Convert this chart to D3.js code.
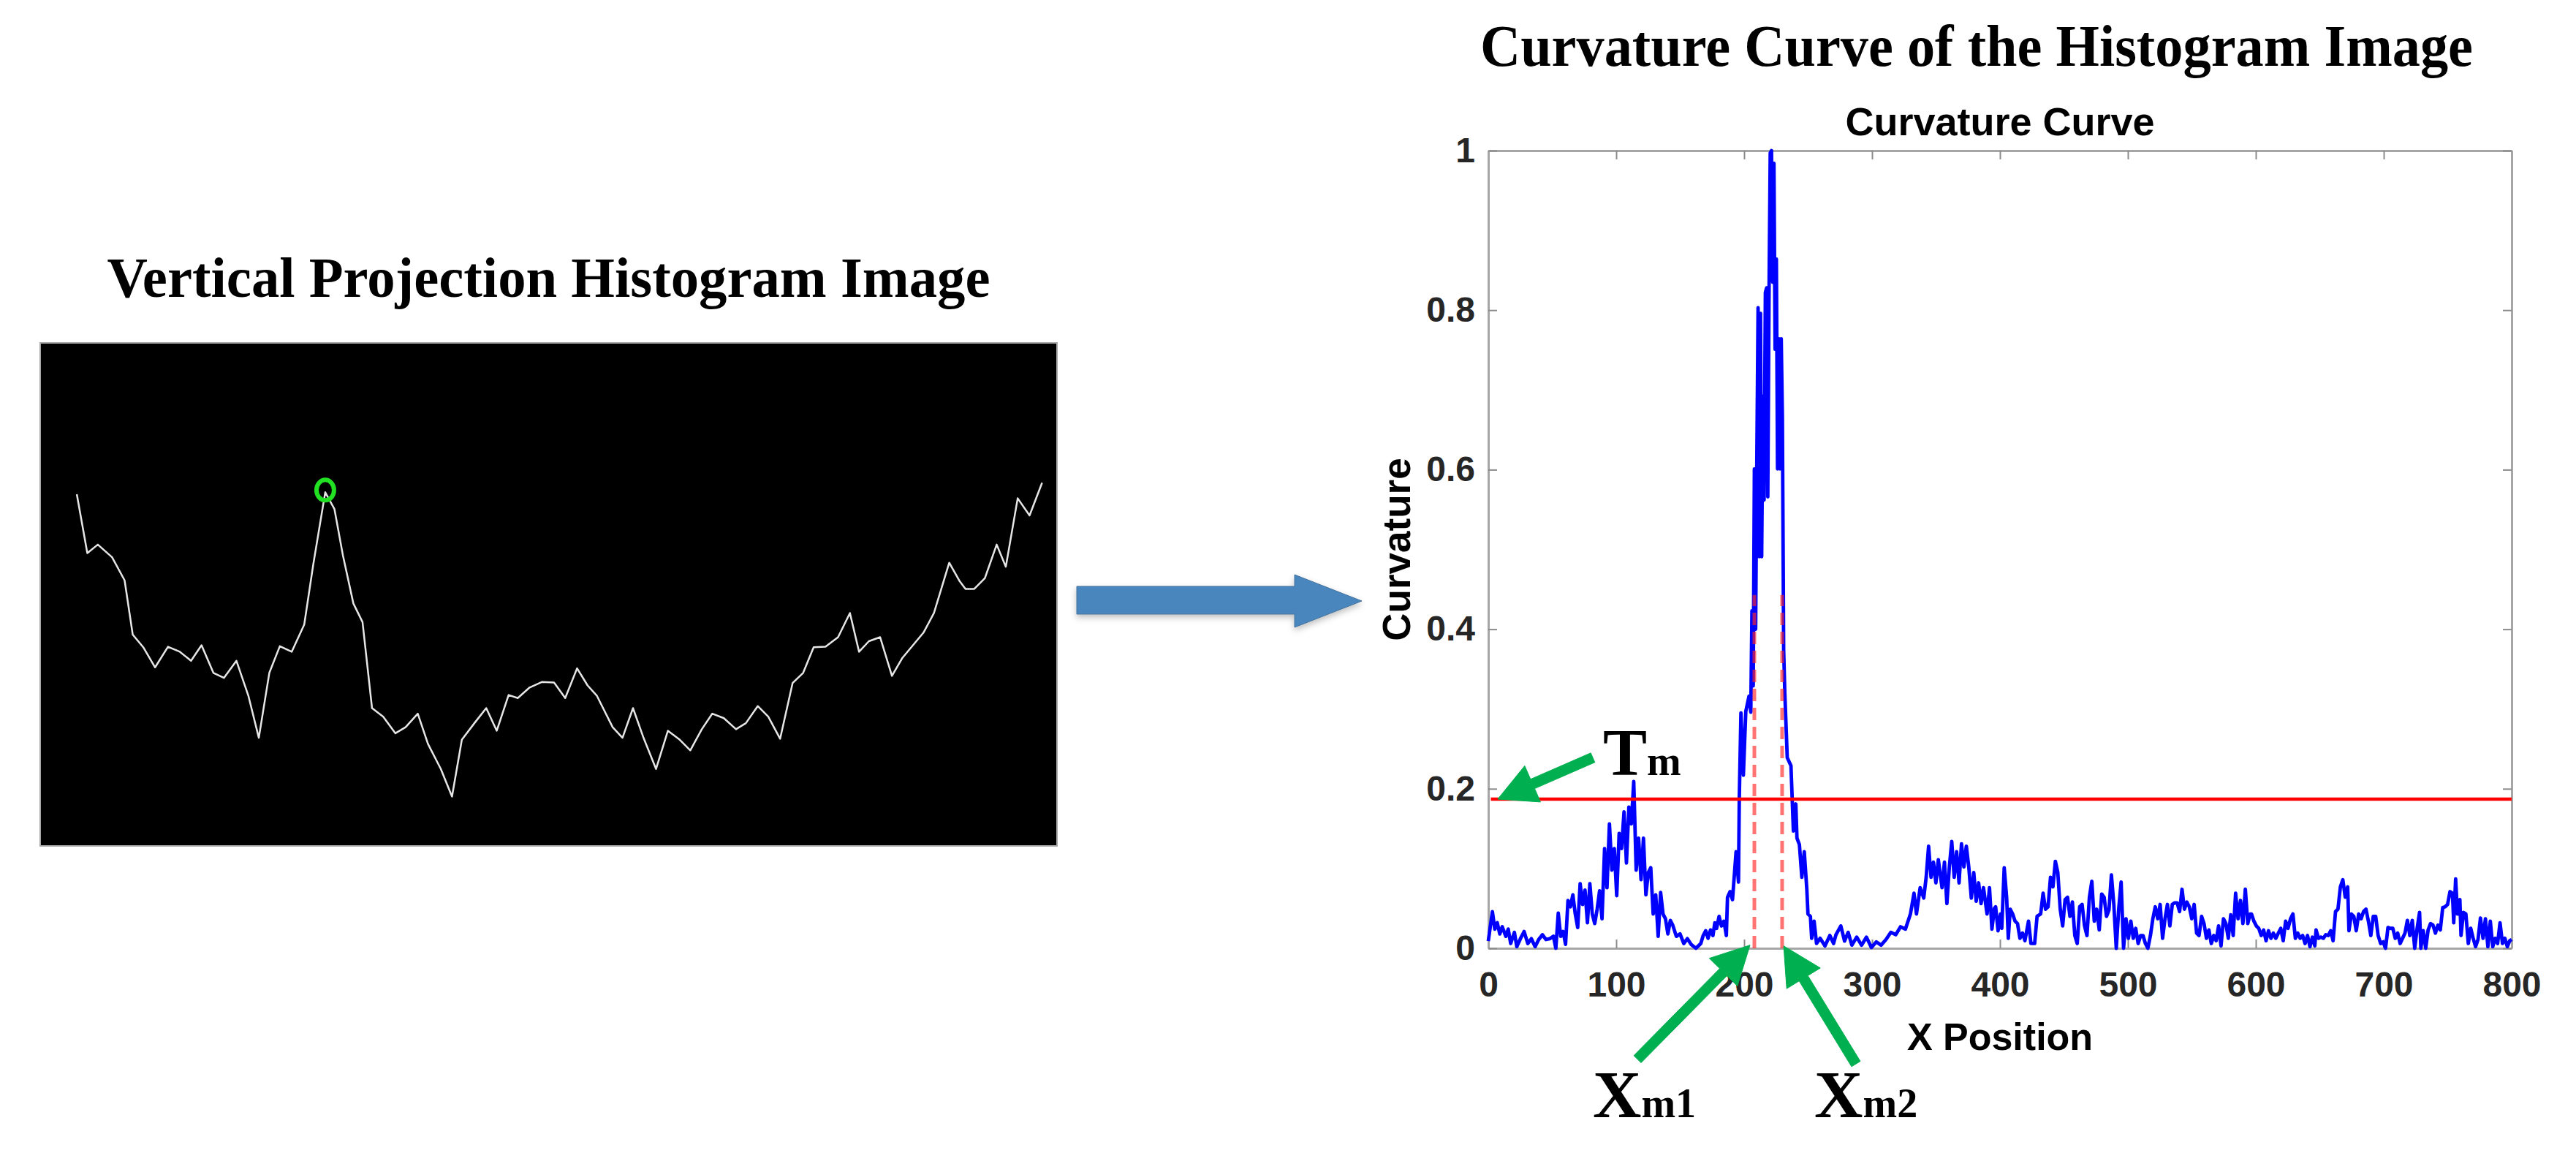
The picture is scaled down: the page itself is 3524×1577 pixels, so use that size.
<!DOCTYPE html>
<html><head><meta charset="utf-8">
<script src="https://cdn.jsdelivr.net/npm/d3@7"></script>
<style>html,body{margin:0;padding:0;background:#fff;}svg{display:block;}</style>
</head><body>
<script>
// ---------- DATA ----------
// Right chart: curvature curve (x position, curvature)
const curveX = [0,3.2,5.1,7.0,9.0,10.9,13.7,15.6,17.5,20.4,22.3,25.1,28.0,30.9,33.7,36.6,39.4,42.3,45.1,48.0,50.9,52.8,54.7,56.6,58.5,60.4,62.3,64.2,66.1,68.0,69.9,71.8,73.7,75.6,77.5,79.4,81.3,83.2,85.1,87.0,88.9,90.9,92.8,94.7,96.6,98.5,100.4,102.3,104.2,106.1,108.0,109.9,111.8,113.7,115.6,117.5,119.4,121.3,123.2,125.1,127.0,128.9,130.9,132.8,134.7,136.6,138.5,140.4,142.3,144.2,147.0,149.9,152.8,155.6,158.5,162.3,166.1,168.0,170.0,171.8,173.7,175.6,177.1,178.5,180.4,182.3,184.2,186.1,187.0,189.0,190.9,191.8,193.7,195.6,196.2,197.5,199.4,201.3,203.8,205.2,206.1,207.1,208.0,209.0,209.9,210.9,211.8,212.8,213.7,214.7,215.6,216.6,217.6,218.5,219.5,220.4,221.4,222.3,223.3,224.2,225.2,226.1,227.1,228.0,229.0,229.9,230.9,231.8,233.7,236.6,237.5,238.5,240.4,241.3,243.2,245.1,247.0,249.0,249.9,251.8,252.8,254.7,256.6,259.4,263.2,267.0,269.9,271.8,275.6,278.5,281.3,284.2,288.0,291.8,295.6,299.5,303.3,307.1,310.9,314.7,318.5,322.3,326.1,330.0,332.8,334.7,337.6,340.4,342.3,344.2,346.1,348.0,349.9,351.8,354.7,356.6,358.5,360.4,362.3,364.2,366.1,368.0,369.9,371.8,373.7,375.6,377.6,379.5,381.4,383.3,385.2,387.1,389.9,391.8,393.7,395.6,396.6,398.5,400.4,401.4,403.3,405.2,406.5,408.0,409.9,411.8,413.7,415.6,417.6,419.5,422.3,424.2,427.1,429.0,431.8,433.7,435.6,437.6,439.5,441.4,443.3,445.2,447.1,449.0,450.9,452.8,454.7,456.6,458.5,460.4,462.3,464.2,466.1,468.0,469.9,471.8,473.7,475.6,477.6,479.5,481.4,483.3,485.2,487.1,489.0,490.9,492.8,494.7,496.6,498.5,500.4,502.3,504.2,506.1,508.0,509.9,511.8,513.7,515.6,517.6,519.5,521.4,523.3,525.2,527.1,529.0,530.9,532.8,534.7,536.6,538.5,540.4,542.3,544.2,546.1,548.0,549.9,551.8,553.7,555.6,557.6,559.5,561.4,563.3,565.2,567.1,569.0,570.9,572.8,574.7,576.6,578.5,580.4,582.3,584.2,586.1,588.0,589.9,591.8,593.7,595.6,596.6,598.5,600.4,602.3,604.2,606.1,608.0,609.9,611.8,613.7,615.6,617.6,619.5,621.4,623.3,625.2,627.1,629.0,630.9,632.8,634.7,636.6,638.5,640.4,642.3,644.2,646.1,647.1,649.0,650.9,652.8,654.7,656.6,658.5,660.4,662.3,664.2,666.1,668.0,669.9,671.8,672.8,674.7,676.6,678.5,680.4,682.3,684.2,686.1,688.0,689.9,691.8,693.7,695.6,697.6,699.5,701.4,703.3,705.2,707.1,709.0,710.9,712.8,714.7,716.6,718.5,720.4,722.3,724.2,726.1,728.0,729.0,730.9,732.8,734.7,736.6,738.5,740.4,742.3,744.2,746.1,748.0,749.9,751.8,753.7,754.7,756.2,757.6,759.5,760.4,762.3,764.2,766.1,768.0,769.9,771.8,773.7,775.6,777.6,779.5,781.4,783.3,785.2,787.1,789.0,790.9,792.8,794.7,796.6,798.5,800];
const curveY = [0.009,0.046,0.024,0.032,0.018,0.027,0.015,0.024,0.006,0.020,0.002,0.012,0.021,0.006,0.012,0.002,0.011,0.017,0.011,0.012,0.015,0.000,0.044,0.015,0.021,0.005,0.060,0.052,0.067,0.043,0.026,0.081,0.055,0.073,0.032,0.081,0.043,0.031,0.049,0.072,0.037,0.125,0.076,0.156,0.098,0.125,0.066,0.144,0.125,0.171,0.107,0.177,0.156,0.209,0.098,0.138,0.086,0.138,0.067,0.095,0.101,0.043,0.067,0.015,0.070,0.043,0.037,0.018,0.035,0.029,0.015,0.018,0.006,0.012,0.005,0.000,0.006,0.016,0.022,0.0125,0.023,0.016,0.032,0.025,0.040,0.028,0.034,0.016,0.064,0.071,0.061,0.080,0.121,0.083,0.187,0.295,0.217,0.297,0.316,0.296,0.423,0.329,0.601,0.400,0.608,0.803,0.491,0.796,0.491,0.692,0.562,0.822,0.828,0.566,0.828,0.997,1.000,0.835,0.984,0.751,0.864,0.601,0.764,0.601,0.764,0.666,0.374,0.320,0.239,0.229,0.190,0.147,0.181,0.138,0.130,0.089,0.121,0.074,0.043,0.040,0.0125,0.034,0.006,0.0125,0.003,0.016,0.006,0.017,0.028,0.009,0.020,0.004,0.014,0.004,0.014,0.001,0.008,0.004,0.011,0.020,0.017,0.027,0.024,0.043,0.069,0.043,0.076,0.063,0.089,0.128,0.089,0.108,0.082,0.111,0.076,0.108,0.056,0.102,0.134,0.089,0.121,0.082,0.131,0.102,0.128,0.102,0.063,0.095,0.059,0.082,0.056,0.076,0.043,0.076,0.024,0.050,0.052,0.022,0.043,0.025,0.101,0.064,0.0125,0.049,0.043,0.034,0.031,0.0125,0.019,0.0095,0.034,0.006,0.006,0.040,0.043,0.069,0.049,0.052,0.089,0.077,0.109,0.095,0.049,0.028,0.061,0.064,0.040,0.058,0.016,0.006,0.052,0.055,0.028,0.016,0.064,0.084,0.034,0.049,0.023,0.068,0.064,0.040,0.048,0.092,0.055,0.000,0.049,0.083,0.000,0.037,0.0125,0.034,0.0125,0.025,0.006,0.016,0.016,0.006,0.000,0.016,0.037,0.052,0.037,0.055,0.0125,0.037,0.055,0.028,0.055,0.057,0.057,0.046,0.074,0.049,0.058,0.052,0.037,0.055,0.019,0.016,0.040,0.031,0.0125,0.023,0.006,0.016,0.0095,0.028,0.003,0.037,0.031,0.0125,0.042,0.016,0.069,0.037,0.060,0.031,0.074,0.031,0.043,0.043,0.034,0.028,0.025,0.016,0.023,0.0095,0.022,0.0125,0.019,0.0125,0.019,0.025,0.0095,0.034,0.025,0.037,0.043,0.0125,0.019,0.0125,0.016,0.006,0.016,0.002,0.014,0.003,0.023,0.0125,0.014,0.0125,0.017,0.016,0.022,0.0095,0.046,0.049,0.077,0.086,0.064,0.077,0.022,0.043,0.040,0.022,0.043,0.037,0.046,0.049,0.034,0.016,0.040,0.040,0.016,0.006,0.008,0.000,0.026,0.025,0.025,0.0125,0.019,0.006,0.0125,0.019,0.035,0.016,0.035,0.000,0.025,0.045,0.000,0.022,0.000,0.023,0.031,0.029,0.019,0.029,0.023,0.051,0.052,0.055,0.071,0.069,0.032,0.087,0.043,0.061,0.016,0.045,0.043,0.006,0.025,0.0125,0.002,0.011,0.038,0.0125,0.037,0.002,0.034,0.002,0.0125,0.006,0.032,0.006,0.0125,0.002,0.0095,0.011];
const xTicks = [0,100,200,300,400,500,600,700,800];
const yTicks = [0,0.2,0.4,0.6,0.8,1];
const threshold = 0.187;          // Tm
const xm = [208, 229.7];          // Xm1, Xm2
const xmTop = 0.443;

// Left image: vertical projection histogram (column, projection value)
const projCol = [10.8,13.9,17.0,21.2,24.9,27.3,30.4,33.9,37.7,41.2,44.5,47.6,51.1,54.2,57.9,61.4,64.5,67.6,70.7,74.2,77.9,80.6,84.1,86.8,89.3,92.4,95.1,97.9,101.2,104.8,107.8,111.4,114.4,118.2,121.5,124.4,128.1,131.6,134.7,138.2,140.9,144.4,148.1,151.6,154.9,158.4,161.5,164.2,168.9,171.8,174.9,178.0,181.7,185.2,188.7,191.8,195.2,198.3,201.7,205.3,208.2,211.7,214.8,218.3,222.0,225.1,228.2,231.7,235.4,238.9,241.6,244.5,247.8,251.3,254.4,257.5,260.6,263.7,268.2,271.3,273.0,275.6,278.7,282.2,284.9,288.4,291.9,295.6];
const projVal = [69.9,58.2,59.9,57.4,52.8,42.0,39.5,35.5,39.6,38.6,36.8,39.9,34.4,33.4,36.8,29.9,21.5,34.4,39.7,38.6,44.0,56.1,70.3,67.0,57.8,48.2,44.5,27.4,25.7,22.4,23.6,26.3,20.3,15.3,9.8,21.1,24.4,27.4,22.9,30.0,29.4,31.5,32.6,32.5,29.4,35.3,31.9,29.9,23.6,21.5,27.4,21.5,15.3,22.9,21.1,19.0,23.2,26.3,25.4,23.2,24.4,27.8,25.7,21.3,32.4,34.4,39.5,39.6,41.5,46.3,38.6,40.7,41.5,33.8,37.4,39.9,42.4,46.3,56.3,52.6,51.1,51.1,53.2,59.9,55.5,69.1,65.7,72.2];
const projPeak = 22;

// ---------- DRAW ----------
const W = 3524, H = 1577;
const SANS = "'Liberation Sans', Arial, Helvetica, sans-serif";
const SERIF = "'Liberation Serif', 'Times New Roman', serif";
const svg = d3.select("body").append("svg").attr("width", W).attr("height", H)
  .attr("viewBox", `0 0 ${W} ${H}`).style("background", "#fff");

const defs = svg.append("defs");
const sh = defs.append("filter").attr("id", "shadow").attr("x", "-10%").attr("y", "-30%").attr("width", "130%").attr("height", "180%");
sh.append("feDropShadow").attr("dx", 0).attr("dy", 4).attr("stdDeviation", 4).attr("flood-color", "#000").attr("flood-opacity", 0.25);

// ----- Left panel -----
const px = d3.scaleLinear([0, 300], [55, 1446]);
const py = d3.scaleLinear([0, 100], [1157, 469]);
svg.append("text").attr("x", (px.range()[0] + px.range()[1]) / 2).attr("y", 406)
  .attr("text-anchor", "middle").attr("font-family", SERIF).attr("font-weight", "bold")
  .attr("font-size", 78).attr("textLength", 1208).attr("lengthAdjust", "spacingAndGlyphs")
  .text("Vertical Projection Histogram Image");
svg.append("rect").attr("x", px.range()[0]).attr("y", py.range()[1])
  .attr("width", px.range()[1] - px.range()[0]).attr("height", py.range()[0] - py.range()[1])
  .attr("fill", "#000").attr("stroke", "#a8a8a8").attr("stroke-width", 2);
const projData = projCol.map((c, i) => [c, projVal[i]]);
svg.append("path").datum(projData)
  .attr("d", d3.line().x(d => px(d[0])).y(d => py(d[1])))
  .attr("fill", "none").attr("stroke", "#e6e6e6").attr("stroke-width", 2.5).attr("stroke-linejoin", "round");
svg.append("ellipse").attr("cx", px(projCol[projPeak])).attr("cy", py(projVal[projPeak]) - 3)
  .attr("rx", 12).attr("ry", 14).attr("fill", "none").attr("stroke", "#22e022").attr("stroke-width", 6);

// ----- Blue block arrow -----
const blueArrow = [[1473, 802], [1771, 802], [1771, 786], [1863, 822], [1771, 858], [1771, 840], [1473, 840]];
svg.append("polygon").attr("points", blueArrow.map(p => p.join(",")).join(" "))
  .attr("fill", "#4a86bd").attr("stroke", "#41719c").attr("stroke-width", 1).attr("filter", "url(#shadow)");

// ----- Right chart -----
const x = d3.scaleLinear([0, 800], [2036, 3436]);
const y = d3.scaleLinear([0, 1], [1297, 206]);
const cx = (x.range()[0] + x.range()[1]) / 2;

svg.append("text").attr("x", 2704).attr("y", 90).attr("text-anchor", "middle")
  .attr("font-family", SERIF).attr("font-weight", "bold").attr("font-size", 80)
  .attr("textLength", 1358).attr("lengthAdjust", "spacingAndGlyphs")
  .text("Curvature Curve of the Histogram Image");
svg.append("text").attr("x", cx).attr("y", 185).attr("text-anchor", "middle")
  .attr("font-family", SANS).attr("font-weight", "bold").attr("font-size", 54).attr("fill", "#000")
  .text("Curvature Curve");

const axColor = "#a6a6a6";
function styleAxis(g) {
  g.select(".domain").attr("stroke", axColor).attr("stroke-width", 3);
  g.selectAll(".tick line").attr("stroke", "#8c8c8c").attr("stroke-width", 2);
  g.selectAll(".tick text").attr("font-family", SANS).attr("font-weight", "bold")
    .attr("font-size", 48).attr("fill", "#262626");
}
const fmt = d3.format("~g");
svg.append("g").attr("transform", `translate(0,${y(0)})`)
  .call(d3.axisBottom(x).tickValues(xTicks).tickFormat(fmt).tickSize(-12).tickSizeOuter(0).tickPadding(32))
  .call(styleAxis);
svg.append("g").attr("transform", `translate(0,${y(1)})`)
  .call(d3.axisTop(x).tickValues(xTicks).tickFormat("").tickSize(-12).tickSizeOuter(0))
  .call(styleAxis);
svg.append("g").attr("transform", `translate(${x(0)},0)`)
  .call(d3.axisLeft(y).tickValues(yTicks).tickFormat(fmt).tickSize(-12).tickSizeOuter(0).tickPadding(18))
  .call(styleAxis);
svg.append("g").attr("transform", `translate(${x(800)},0)`)
  .call(d3.axisRight(y).tickValues(yTicks).tickFormat("").tickSize(-12).tickSizeOuter(0))
  .call(styleAxis);

svg.append("text").attr("x", cx).attr("y", 1436).attr("text-anchor", "middle")
  .attr("font-family", SANS).attr("font-weight", "bold").attr("font-size", 52).attr("fill", "#000")
  .text("X Position");
svg.append("text").attr("transform", `translate(1929,${(y(0) + y(1)) / 2}) rotate(-90)`)
  .attr("text-anchor", "middle").attr("font-family", SANS).attr("font-weight", "bold")
  .attr("font-size", 53).attr("fill", "#000").text("Curvature");

// Curve
const curve = curveX.map((v, i) => [v, curveY[i]]);
svg.append("path").datum(curve)
  .attr("d", d3.line().x(d => x(d[0])).y(d => y(d[1])))
  .attr("fill", "none").attr("stroke", "#0000ff").attr("stroke-width", 4.8).attr("stroke-linejoin", "round");

// Threshold line
svg.append("line").attr("x1", x(2)).attr("x2", x(800)).attr("y1", y(threshold)).attr("y2", y(threshold))
  .attr("stroke", "#ff0000").attr("stroke-width", 4.5);
// Dashed Xm lines
svg.selectAll("line.xm").data(xm).join("line").attr("class", "xm")
  .attr("x1", d => x(d)).attr("x2", d => x(d)).attr("y1", y(0)).attr("y2", y(xmTop))
  .attr("stroke", "rgba(255,40,40,0.65)").attr("stroke-width", 5).attr("stroke-dasharray", "17,9");

// Green annotation arrows
function arrowPoints(t, h, shaftW, headL, headW) {
  const dx = h[0] - t[0], dy = h[1] - t[1], L = Math.hypot(dx, dy);
  const ux = dx / L, uy = dy / L, nx = -uy, ny = ux;
  const b = [h[0] - ux * headL, h[1] - uy * headL];
  const pts = [
    [t[0] + nx * shaftW / 2, t[1] + ny * shaftW / 2],
    [b[0] + nx * shaftW / 2, b[1] + ny * shaftW / 2],
    [b[0] + nx * headW / 2, b[1] + ny * headW / 2],
    h,
    [b[0] - nx * headW / 2, b[1] - ny * headW / 2],
    [b[0] - nx * shaftW / 2, b[1] - ny * shaftW / 2],
    [t[0] - nx * shaftW / 2, t[1] - ny * shaftW / 2]
  ];
  return pts.map(p => p.join(",")).join(" ");
}
const greenArrows = [
  { tail: [81.7, 0.239], tip: [7.4, threshold] },
  { tail: [116.6, -0.139], tip: [204.6, 0.004] },
  { tail: [287.4, -0.145], tip: [230.9, 0.003] }
];
svg.selectAll("polygon.garrow").data(greenArrows).join("polygon").attr("class", "garrow")
  .attr("points", d => arrowPoints([x(d.tail[0]), y(d.tail[1])], [x(d.tip[0]), y(d.tip[1])], 14, 52, 54))
  .attr("fill", "#00b050").attr("stroke", "#00b050").attr("stroke-width", 1).attr("stroke-linejoin", "round");

// Labels Tm, Xm1, Xm2
const labels = [
  { pos: [89.7, 0.217], main: "T", sub: "m", mainSize: 90, subSize: 56 },
  { pos: [81.7, -0.212], main: "X", sub: "m1", mainSize: 92, subSize: 56 },
  { pos: [254.9, -0.212], main: "X", sub: "m2", mainSize: 92, subSize: 56 }
];
labels.forEach(l => {
  const t = svg.append("text").attr("x", x(l.pos[0])).attr("y", y(l.pos[1]))
    .attr("font-family", SERIF).attr("font-weight", "bold").attr("fill", "#000");
  t.append("tspan").attr("font-size", l.mainSize).text(l.main);
  t.append("tspan").attr("font-size", l.subSize).text(l.sub);
});
</script>
</body></html>
